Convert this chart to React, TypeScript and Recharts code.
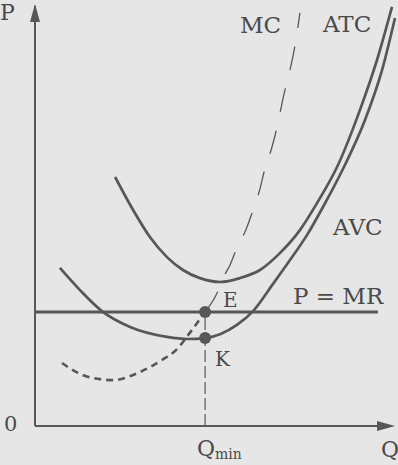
import { LineChart, Line, XAxis, YAxis, ReferenceLine, ReferenceDot } from "recharts";

// costs of a firm (Q across, P up)
const atcCurve = [
  { q: 2.67, p: 8.3 }, { q: 3.27, p: 7.2 }, { q: 3.83, p: 6.3 }, { q: 4.4, p: 5.63 },
  { q: 4.93, p: 5.2 }, { q: 5.5, p: 4.93 }, { q: 6.17, p: 4.8 }, { q: 6.83, p: 4.93 },
  { q: 7.5, p: 5.2 }, { q: 8.17, p: 5.77 }, { q: 8.83, p: 6.53 }, { q: 9.4, p: 7.43 },
  { q: 10.1, p: 8.7 }, { q: 10.83, p: 10.53 }, { q: 11.4, p: 12.2 }, { q: 11.9, p: 13.97 },
];

const avcCurve = [
  { q: 0.83, p: 5.27 }, { q: 1.5, p: 4.53 }, { q: 2.23, p: 3.83 }, { q: 3.17, p: 3.3 },
  { q: 4.4, p: 2.97 }, { q: 5.1, p: 2.9 }, { q: 5.67, p: 2.93 }, { q: 6.73, p: 3.37 },
  { q: 7.27, p: 3.83 }, { q: 7.93, p: 4.73 }, { q: 8.5, p: 5.53 }, { q: 9.07, p: 6.37 },
  { q: 9.6, p: 7.3 }, { q: 10.33, p: 8.7 }, { q: 11.0, p: 10.2 }, { q: 11.57, p: 11.87 },
  { q: 12.0, p: 13.6 },
];

const mcLower = [
  { q: 0.9, p: 2.1 }, { q: 1.43, p: 1.77 }, { q: 1.93, p: 1.6 }, { q: 2.6, p: 1.53 },
  { q: 3.5, p: 1.8 }, { q: 4.23, p: 2.2 }, { q: 4.7, p: 2.53 }, { q: 5.23, p: 3.2 },
  { q: 5.67, p: 3.8 },
];

const mcUpper = [
  { q: 5.67, p: 3.8 }, { q: 6.07, p: 4.43 }, { q: 6.27, p: 4.93 }, { q: 6.5, p: 5.37 },
  { q: 6.77, p: 6.03 }, { q: 7.0, p: 6.47 }, { q: 7.27, p: 7.2 }, { q: 7.47, p: 7.8 },
  { q: 7.67, p: 8.6 }, { q: 7.9, p: 9.3 }, { q: 8.1, p: 10.1 }, { q: 8.27, p: 10.93 },
  { q: 8.5, p: 11.87 }, { q: 8.67, p: 12.7 }, { q: 8.83, p: 13.77 },
];

const price = 3.8;
const priceEnd = 11.43;
const qMin = 5.67;
const pointE = { q: 5.67, p: 3.8 };
const pointK = { q: 5.67, p: 2.93 };
const qMax = 12;
const pMax = 14;

const ink = "#575757";
const textInk = "#4a4a4a";
const font = "'DejaVu Serif', serif";

const upArrow = (props: any) => (
  <path d={`M${props.cx},${props.cy - 2} L${props.cx - 5},${props.cy + 16} L${props.cx + 5},${props.cy + 16} Z`} fill={ink} />
);
const rightArrow = (props: any) => (
  <path d={`M${props.cx},${props.cy} L${props.cx - 18},${props.cy - 5} L${props.cx - 18},${props.cy + 5} Z`} fill={ink} />
);

export default function App() {
  return (
    <div style={{ position: "absolute", left: 0, top: 0, width: 398, height: 465, background: "#e6e6e6", fontFamily: font }}>
      <LineChart width={398} height={465} margin={{ top: 6, right: 3, left: 35, bottom: 39 }}>
        <XAxis type="number" dataKey="q" domain={[0, qMax]} hide allowDuplicatedCategory={false} />
        <YAxis type="number" dataKey="p" domain={[0, pMax]} hide />
        {/* axes */}
        <ReferenceLine segment={[{ x: 0, y: 0 }, { x: 0, y: pMax }]} stroke={ink} strokeWidth={2} ifOverflow="visible" />
        <ReferenceLine segment={[{ x: 0, y: 0 }, { x: qMax - 0.3, y: 0 }]} stroke={ink} strokeWidth={2} ifOverflow="visible" />
        <ReferenceLine segment={[{ x: 0, y: price }, { x: priceEnd, y: price }]} stroke={ink} strokeWidth={3} ifOverflow="visible" />
        <ReferenceLine segment={[{ x: qMin, y: 0 }, { x: qMin, y: price }]} stroke={ink} strokeWidth={1.2} strokeDasharray="12 4" ifOverflow="visible" />
        <Line data={atcCurve} dataKey="p" type="monotone" stroke={ink} strokeWidth={2.7} dot={false} activeDot={false} isAnimationActive={false} />
        <Line data={avcCurve} dataKey="p" type="monotone" stroke={ink} strokeWidth={2.7} dot={false} activeDot={false} isAnimationActive={false} />
        <Line data={mcLower} dataKey="p" type="monotone" stroke={ink} strokeWidth={2.6} strokeDasharray="7 5" dot={false} activeDot={false} isAnimationActive={false} />
        <Line data={mcUpper} dataKey="p" type="monotone" stroke={ink} strokeWidth={1.3} strokeDasharray="24 19" dot={false} activeDot={false} isAnimationActive={false} />
        <ReferenceDot x={pointE.q} y={pointE.p} r={6} fill={ink} stroke="none" ifOverflow="visible" />
        <ReferenceDot x={pointK.q} y={pointK.p} r={6} fill={ink} stroke="none" ifOverflow="visible" />
        <ReferenceDot x={0} y={pMax} shape={upArrow} ifOverflow="visible" />
        <ReferenceDot x={qMax} y={0} shape={rightArrow} ifOverflow="visible" />
      </LineChart>
      <svg width={398} height={465} style={{ position: "absolute", left: 0, top: 0, pointerEvents: "none" }}>
        <g fill={textInk} fontFamily={font}>
          <text x={0} y={20} fontSize={22}>P</text>
          <text x={240} y={33} fontSize={23}>MC</text>
          <text x={323} y={32} fontSize={23}>ATC</text>
          <text x={333} y={235} fontSize={23}>AVC</text>
          <text x={293} y={304} fontSize={23}>P = MR</text>
          <text x={223} y={307} fontSize={20}>E</text>
          <text x={215} y={366} fontSize={20}>K</text>
          <text x={4} y={431} fontSize={21}>0</text>
          <text x={381} y={457} fontSize={22}>Q</text>
          <text x={197} y={456} fontSize={22}>Q<tspan fontSize={14} dy={3}>min</tspan></text>
        </g>
      </svg>
    </div>
  );
}
